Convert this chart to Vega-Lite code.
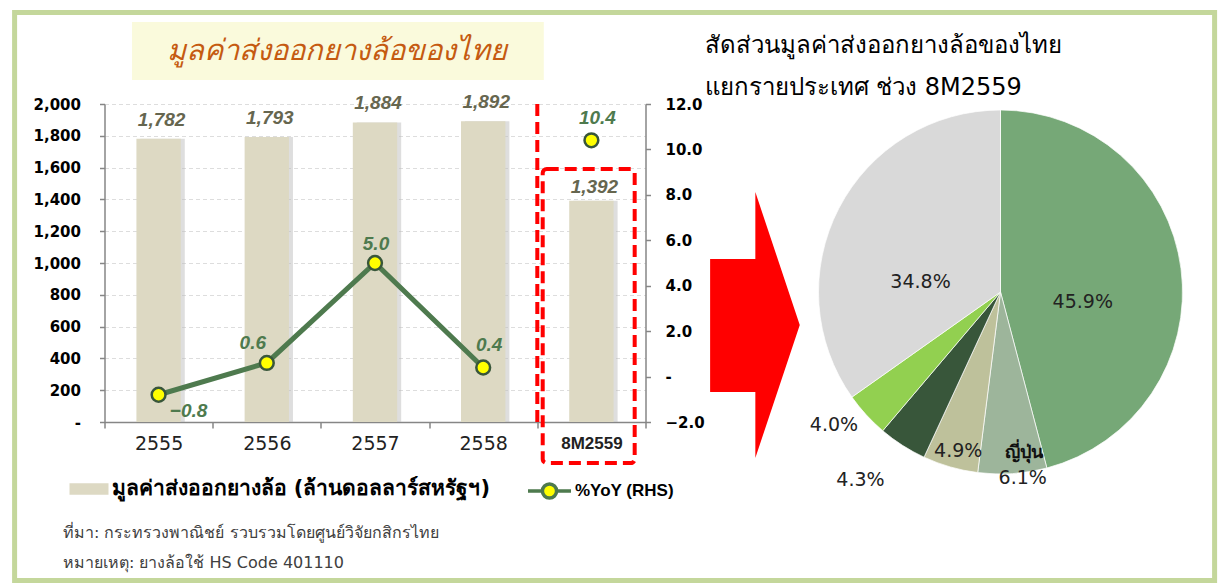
{
  "$schema": "https://vega.github.io/schema/vega-lite/v6.json",
  "background": "white",
  "padding": {"left": 4.5, "top": 2, "right": 4, "bottom": 4},
  "config": {
    "view": {"stroke": null}, "font": "DejaVu Sans",
    "axisLeft": {"labelOverlap": false, "labelPadding": 19},
    "axisRight": {"labelOverlap": false, "labelPadding": 14.5}
  },
  "bounds": "flush",
  "spacing": 16,
  "hconcat": [
    {
      "width": 541,
      "height": 318,
      "data": {"values": [
        {"year": "2555", "value": 1782, "yoy": -0.8},
        {"year": "2556", "value": 1793, "yoy": 0.6},
        {"year": "2557", "value": 1884, "yoy": 5.0},
        {"year": "2558", "value": 1892, "yoy": 0.4},
        {"year": "8M2559", "value": 1392, "yoy": 10.4}
      ]},
      "title": {
        "text": ["ที่มา: กระทรวงพาณิชย์ รวบรวมโดยศูนย์วิจัยกสิกรไทย", "หมายเหตุ: ยางล้อใช้ HS Code 401110"],
        "orient": "bottom", "anchor": "start", "frame": "group", "dx": -41.5, "offset": 60,
        "fontSize": 16, "fontWeight": "normal", "color": "#404040", "lineHeight": 30
      },
      "resolve": {"scale": {"y": "independent"}},
      "layer": [
        {
          "layer": [
            {
              "mark": {"type": "bar", "width": {"band": 0.41}, "xOffset": 4, "color": "#bdbdbd", "opacity": 0.5},
              "encoding": {
                "x": {"field": "year", "type": "nominal", "title": null},
                "y": {"field": "value", "type": "quantitative", "title": null}
              }
            },
            {
              "mark": {"type": "bar", "width": {"band": 0.41}},
              "encoding": {
                "x": {
                  "field": "year", "type": "nominal", "title": null,
                  "scale": {"type": "band", "domain": ["2555", "2556", "2557", "2558", "8M2559"], "paddingInner": 0, "paddingOuter": 0},
                  "axis": {
                    "title": null, "labelAngle": 0, "labelAlign": "center", "tickBand": "extent", "domainColor": "#868686", "domainWidth": 1.5,
                    "tickColor": "#868686", "tickWidth": 1.5, "tickSize": 6, "labelPadding": 15, "labelColor": "#222222",
                    "labelFont": {"condition": {"test": "datum.value == '8M2559'", "value": "Liberation Sans"}, "value": "DejaVu Sans"},
                    "labelFontSize": {"condition": {"test": "datum.value == '8M2559'", "value": 17}, "value": 19},
                    "labelFontWeight": {"condition": {"test": "datum.value == '8M2559'", "value": "bold"}, "value": "normal"}
                  }
                },
                "y": {
                  "field": "value", "type": "quantitative", "title": null,
                  "scale": {"domain": [0, 2000], "nice": false},
                  "axis": {
                    "title": null, "values": [0, 200, 400, 600, 800, 1000, 1200, 1400, 1600, 1800, 2000], "tickCount": 20, "labelOverlap": false,
                    "labelExpr": "datum.value === 0 ? '-' : format(datum.value, ',')",
                    "labelFont": "DejaVu Sans", "labelFontWeight": "bold", "labelFontSize": 15, "labelColor": "#000000",
                    "labelPadding": 19, "tickSize": 5, "tickColor": "#868686", "tickWidth": 1.5, "domainColor": "#868686", "domainWidth": 1.5,
                    "grid": true, "gridColor": "#dddddd", "gridDash": [4, 3], "gridWidth": 1
                  }
                },
                "fill": {
                  "datum": "มูลค่าส่งออกยางล้อ (ล้านดอลลาร์สหรัฐฯ)",
                  "scale": {"range": ["#ddd9c3"]},
                  "legend": {
                    "orient": "none", "legendX": -35, "legendY": 365.5, "title": null, "padding": 0,
                    "symbolType": "M-1,-0.3H1V0.3H-1Z", "symbolSize": 1521, "symbolStrokeWidth": 0,
                    "labelFontSize": 21, "labelFontWeight": "bold", "labelColor": "#000000", "labelOffset": 3, "labelLimit": 500
                  }
                }
              }
            },
            {
              "transform": [{"filter": "datum.year != '8M2559'"}],
              "mark": {"type": "text", "dx": 3, "dy": -19, "font": "Liberation Sans", "fontSize": 19, "fontWeight": "bold", "fontStyle": "italic", "color": "#66664f", "baseline": "middle"},
              "encoding": {
                "x": {"field": "year", "type": "nominal", "title": null},
                "y": {"field": "value", "type": "quantitative", "title": null},
                "text": {"field": "value", "type": "quantitative", "format": ","}
              }
            },
            {
              "transform": [{"filter": "datum.year == '8M2559'"}],
              "mark": {"type": "text", "dx": 3, "dy": -14, "font": "Liberation Sans", "fontSize": 19, "fontWeight": "bold", "fontStyle": "italic", "color": "#66664f", "baseline": "middle"},
              "encoding": {
                "x": {"field": "year", "type": "nominal", "title": null},
                "y": {"field": "value", "type": "quantitative", "title": null},
                "text": {"field": "value", "type": "quantitative", "format": ","}
              }
            }
          ]
        },
        {
          "layer": [
            {
              "data": {"values": [{}]},
              "mark": {"type": "rect", "fill": "#fafadc"},
              "encoding": {
                "x": {"datum": "2555", "bandPosition": 0.254, "title": null},
                "x2": {"datum": "8M2559", "bandPosition": 0.06},
                "y": {"datum": 2151, "title": null, "scale": {"domain": [0, 2000], "nice": false}, "axis": null},
                "y2": {"datum": 2516}
              }
            },
            {
              "data": {"values": [{}]},
              "mark": {"type": "text", "text": "มูลค่าส่งออกยางล้อของไทย", "fontSize": 29, "fontStyle": "italic", "color": "#c55a11", "baseline": "middle", "align": "center"},
              "encoding": {
                "x": {"datum": "2557", "bandPosition": 0.15, "title": null},
                "y": {"datum": 2333, "title": null, "axis": null}
              }
            },
            {
              "data": {"values": [{}]},
              "mark": {"type": "rule", "color": "#ff0000", "strokeWidth": 4, "strokeDash": [12, 6]},
              "encoding": {
                "x": {"datum": "8M2559", "bandPosition": 0, "title": null},
                "y": {"datum": 2000, "title": null, "axis": null},
                "y2": {"datum": 0}
              }
            },
            {
              "data": {"values": [{}]},
              "mark": {"type": "rect", "filled": false, "color": "#ff0000", "strokeWidth": 4, "strokeDash": [12, 6], "cornerRadius": 4, "opacity": 1},
              "encoding": {
                "x": {"datum": "8M2559", "bandPosition": 0.05, "title": null},
                "x2": {"datum": "8M2559", "bandPosition": 0.9},
                "y": {"datum": 1591, "title": null, "axis": null},
                "y2": {"datum": -258}
              }
            }
          ]
        },
        {
          "layer": [
            {
              "transform": [{"filter": "datum.year != '8M2559'"}],
              "mark": {"type": "line", "strokeWidth": 5},
              "encoding": {
                "x": {"field": "year", "type": "nominal", "title": null},
                "y": {
                  "field": "yoy", "type": "quantitative", "title": null,
                  "scale": {"domain": [-2, 12], "nice": false},
                  "axis": {
                    "orient": "right", "title": null, "values": [-2, 0, 2, 4, 6, 8, 10, 12], "tickCount": 20, "labelOverlap": false,
                    "labelExpr": "datum.value === 0 ? '-' : format(datum.value, '.1f')",
                    "labelFont": "DejaVu Sans", "labelFontWeight": "bold", "labelFontSize": 15, "labelColor": "#000000",
                    "labelPadding": 14.5, "tickSize": 5, "tickColor": "#868686", "tickWidth": 1.5, "domainColor": "#868686", "domainWidth": 1.5,
                    "grid": false
                  }
                },
                "stroke": {
                  "datum": "%YoY (RHS)",
                  "scale": {"range": ["#4e7a4e"]},
                  "legend": {
                    "orient": "none", "legendX": 421.5, "legendY": 363.5, "title": null, "padding": 0,
                    "symbolType": "M-1,0H-0.33M0.33,0H1M0.33,0A0.33,0.33,0,1,1,-0.33,0A0.33,0.33,0,1,1,0.33,0Z",
                    "symbolSize": 1849, "symbolStrokeWidth": 3.5, "symbolFillColor": "#ffff00",
                    "labelFont": "Liberation Sans", "labelFontSize": 17, "labelFontWeight": "bold", "labelColor": "#000000", "labelOffset": 2,
                    "encode": {"symbols": {"update": {"fill": {"value": "#ffff00"}, "strokeWidth": {"value": 3.5}}}}
                  }
                }
              }
            },
            {
              "mark": {"type": "point", "filled": true, "fill": "#ffff00", "stroke": "#38563a", "strokeWidth": 2.5, "size": 190, "opacity": 1},
              "encoding": {
                "x": {"field": "year", "type": "nominal", "title": null},
                "y": {"field": "yoy", "type": "quantitative", "title": null}
              }
            },
            {
              "transform": [{"filter": "datum.year == '2557'"}],
              "mark": {"type": "text", "dx": 1, "dy": -19, "font": "Liberation Sans", "fontSize": 19, "fontWeight": "bold", "fontStyle": "italic", "color": "#4e7a4e", "baseline": "middle"},
              "encoding": {
                "x": {"field": "year", "type": "nominal", "title": null},
                "y": {"field": "yoy", "type": "quantitative", "title": null},
                "text": {"field": "yoy", "type": "quantitative", "format": ".1f"}
              }
            },
            {
              "transform": [{"filter": "datum.year == '2558' || datum.year == '8M2559'"}],
              "mark": {"type": "text", "dx": 6, "dy": -22, "font": "Liberation Sans", "fontSize": 19, "fontWeight": "bold", "fontStyle": "italic", "color": "#4e7a4e", "baseline": "middle"},
              "encoding": {
                "x": {"field": "year", "type": "nominal", "title": null},
                "y": {"field": "yoy", "type": "quantitative", "title": null},
                "text": {"field": "yoy", "type": "quantitative", "format": ".1f"}
              }
            },
            {
              "transform": [{"filter": "datum.year == '2556'"}],
              "mark": {"type": "text", "dx": -14, "dy": -20, "font": "Liberation Sans", "fontSize": 19, "fontWeight": "bold", "fontStyle": "italic", "color": "#4e7a4e", "baseline": "middle"},
              "encoding": {
                "x": {"field": "year", "type": "nominal", "title": null},
                "y": {"field": "yoy", "type": "quantitative", "title": null},
                "text": {"field": "yoy", "type": "quantitative", "format": ".1f"}
              }
            },
            {
              "transform": [{"filter": "datum.year == '2555'"}],
              "mark": {"type": "text", "dx": 30, "dy": 16, "font": "Liberation Sans", "fontSize": 19, "fontWeight": "bold", "fontStyle": "italic", "color": "#4e7a4e", "baseline": "middle"},
              "encoding": {
                "x": {"field": "year", "type": "nominal", "title": null},
                "y": {"field": "yoy", "type": "quantitative", "title": null},
                "text": {"field": "yoy", "type": "quantitative", "format": ".1f"}
              }
            }
          ]
        }
      ]
    },
    {
      "width": 140.6,
      "height": 442,
      "data": {"values": [{}]},
      "layer": [
        {
          "mark": {"type": "point", "shape": "M-0.163,-0.496L0.177,-0.496L0.177,-1L0.511,0L0.177,1L0.177,0.504L-0.163,0.504Z", "size": 70756, "filled": true, "color": "#ff0000", "opacity": 1, "strokeWidth": 0},
          "encoding": {}
        },
        {
          "mark": {"type": "point", "shape": "M-717.2,-312.5H482.8V255.5H-717.2Z", "size": 4, "filled": false, "color": "#c4d79b", "strokeWidth": 5, "opacity": 1},
          "encoding": {}
        }
      ]
    },
    {
      "width": 364,
      "height": 376,
      "data": {"values": [
        {"country": "สหรัฐฯ", "share": 45.9, "ord": 1, "label": "45.9%"},
        {"country": "ญี่ปุ่น", "share": 6.1, "ord": 2, "label": "6.1%"},
        {"country": "ประเทศ 3", "share": 4.9, "ord": 3, "label": "4.9%"},
        {"country": "ประเทศ 4", "share": 4.3, "ord": 4, "label": "4.3%"},
        {"country": "ประเทศ 5", "share": 4.0, "ord": 5, "label": "4.0%"},
        {"country": "อื่นๆ", "share": 34.8, "ord": 6, "label": "34.8%"}
      ]},
      "title": {
        "text": ["สัดส่วนมูลค่าส่งออกยางล้อของไทย", "แยกรายประเทศ ช่วง 8M2559"],
        "anchor": "start", "frame": "group", "dx": -114, "offset": 4,
        "fontSize": 24, "fontWeight": "normal", "color": "#000000", "lineHeight": 42
      },
      "encoding": {
        "theta": {"field": "share", "type": "quantitative", "stack": true},
        "order": {"field": "ord", "type": "quantitative"}
      },
      "layer": [
        {
          "mark": {"type": "arc", "stroke": "#ffffff", "strokeWidth": 0.7},
          "encoding": {
            "color": {
              "field": "country", "type": "nominal", "legend": null,
              "scale": {"domain": ["สหรัฐฯ", "ญี่ปุ่น", "ประเทศ 3", "ประเทศ 4", "ประเทศ 5", "อื่นๆ"],
                        "range": ["#76a877", "#9db59b", "#bec19b", "#38563a", "#92d050", "#d9d9d9"]}
            }
          }
        },
        {
          "mark": {"type": "text", "radius": 85, "dx": -2, "dy": 20.6, "fontSize": 19, "color": "#222222", "baseline": "middle", "align": "center"},
          "encoding": {"detail": {"field": "country", "type": "nominal"}, "text": {"condition": {"test": "datum.ord == 1", "field": "label", "type": "nominal"}, "value": ""}}
        },
        {
          "mark": {"type": "text", "radius": 85, "dx": -4.5, "dy": 28.8, "fontSize": 19, "color": "#222222", "baseline": "middle", "align": "center"},
          "encoding": {"detail": {"field": "country", "type": "nominal"}, "text": {"condition": {"test": "datum.ord == 6", "field": "label", "type": "nominal"}, "value": ""}}
        },
        {
          "mark": {"type": "text", "radius": 164, "dx": 3, "dy": 1, "fontSize": 19, "color": "#222222", "baseline": "middle", "align": "center"},
          "encoding": {"detail": {"field": "country", "type": "nominal"}, "text": {"condition": {"test": "datum.ord == 3", "field": "label", "type": "nominal"}, "value": ""}}
        },
        {
          "mark": {"type": "text", "radius": 161, "dx": 13, "dy": 0, "fontSize": 18, "fontWeight": "bold", "color": "#111111", "baseline": "middle", "align": "center"},
          "encoding": {"detail": {"field": "country", "type": "nominal"}, "text": {"condition": {"test": "datum.ord == 2", "field": "country", "type": "nominal"}, "value": ""}}
        },
        {
          "mark": {"type": "text", "radius": 186, "dx": 10, "dy": 0, "fontSize": 19, "color": "#222222", "baseline": "middle", "align": "center"},
          "encoding": {"detail": {"field": "country", "type": "nominal"}, "text": {"condition": {"test": "datum.ord == 2", "field": "label", "type": "nominal"}, "value": ""}}
        },
        {
          "mark": {"type": "text", "radius": 234, "dx": -14, "dy": -9, "fontSize": 19, "color": "#222222", "baseline": "middle", "align": "center"},
          "encoding": {"detail": {"field": "country", "type": "nominal"}, "text": {"condition": {"test": "datum.ord == 4", "field": "label", "type": "nominal"}, "value": ""}}
        },
        {
          "mark": {"type": "text", "radius": 213, "dx": -9.4, "dy": -11, "fontSize": 19, "color": "#222222", "baseline": "middle", "align": "center"},
          "encoding": {"detail": {"field": "country", "type": "nominal"}, "text": {"condition": {"test": "datum.ord == 5", "field": "label", "type": "nominal"}, "value": ""}}
        }
      ]
    }
  ]
}
